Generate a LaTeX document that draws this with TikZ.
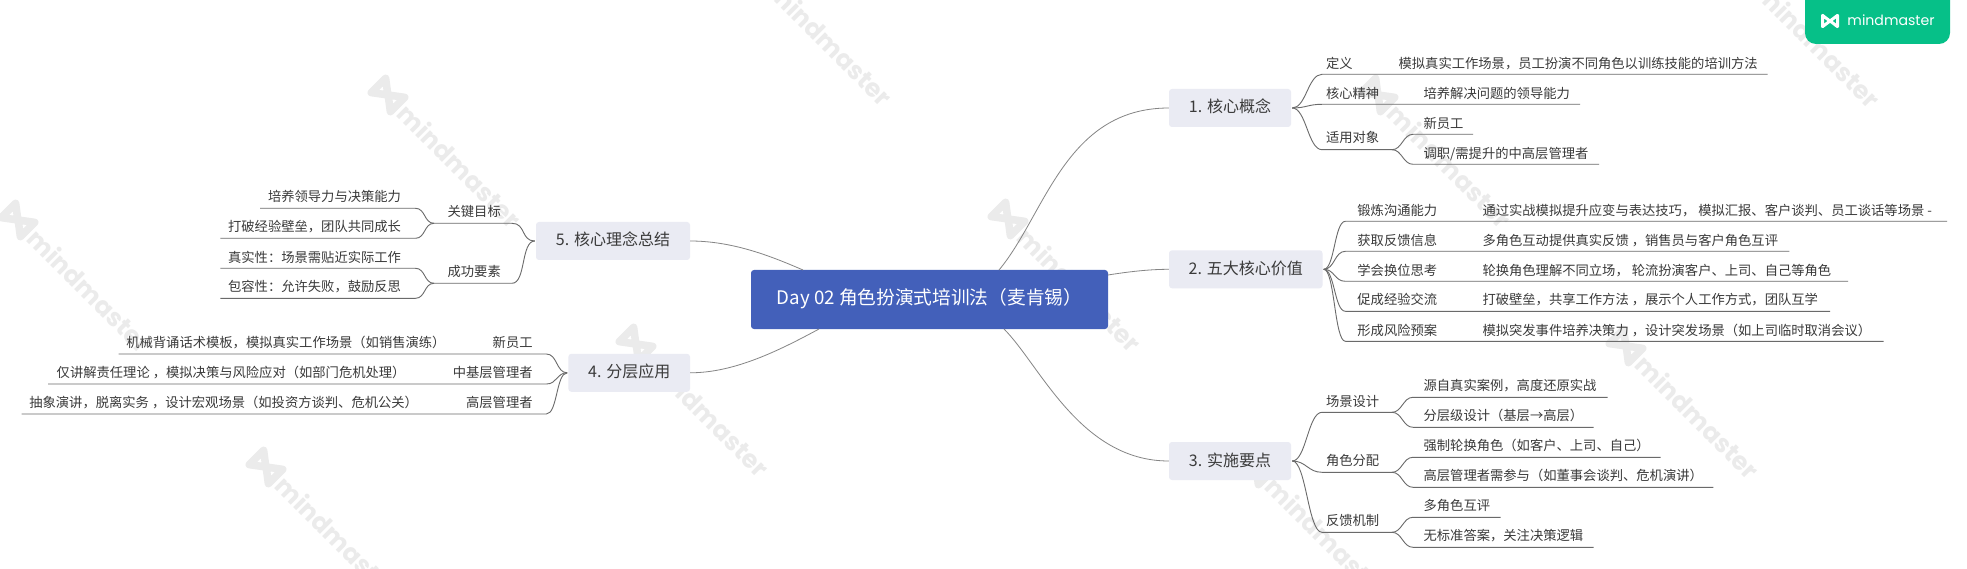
\documentclass[tikz,border=0pt]{standalone}
\usepackage{fontspec}
\setmainfont{Noto Sans CJK SC}
\newfontfamily\wmfont{Poppins}
\definecolor{inkc}{HTML}{3A3A3A}
\definecolor{twigc}{HTML}{6A6A6A}
\definecolor{branchc}{HTML}{858585}
\definecolor{rootc}{HTML}{4360BA}
\definecolor{subc}{HTML}{EAEBF3}
\definecolor{wmc}{HTML}{EBEBEB}
\definecolor{badgec}{HTML}{06C088}
\tikzset{
  lab/.style={inner sep=0pt,outer sep=0pt,text=inkc,text height=1.14em,text depth=0.12em,font=\fontsize{13.3}{16}\selectfont},
  lableft/.style={lab,anchor=west},
  labright/.style={lab,anchor=east},
  subnode/.style={fill=subc,rounded corners=3pt,inner sep=0pt,text=inkc,text height=1.12em,text depth=0.12em,font=\fontsize{16}{19}\selectfont,minimum height=38pt},
  rootnode/.style={fill=rootc,rounded corners=3pt,inner sep=0pt,text=white,text height=1.2em,text depth=0.12em,font=\fontsize{18.7}{22}\selectfont,minimum height=59pt,minimum width=357pt},
  twig/.style={draw=twigc,line width=0.9pt,line join=round},
  branch/.style={draw=branchc,line width=0.8pt},
  wmtext/.style={text=wmc,inner sep=0pt,rotate=-45,font=\fontsize{25}{30}\selectfont\wmfont\bfseries},
}
% parent, name, x start, x end, y, control length
\newcommand{\mmline}[6]{%
  \coordinate (#2s) at (#3,#5);
  \coordinate (#2e) at (#4,#5);
  \draw[twig] (#1) .. controls +(#6,0) and +({-1*(#6)},0) .. (#2s) -- (#2e);
}
% centre x, centre y, rotation, scale, line width, colour
\newcommand{\mmlogo}[6]{%
  \begin{scope}[shift={(#1,#2)},rotate=#3,scale=#4]
    \draw[#6,line width=#5,line join=round,line cap=round]
      (-1,-0.75) -- (-1,0.75) -- (1,-0.75) -- (1,0.75)
      (-1,-0.75) -- (-0.15,-0.1) (1,0.75) -- (0.15,0.1);
  \end{scope}
}
\begin{document}
\begin{tikzpicture}[x=1pt,y=-1pt]
\useasboundingbox (0,0) rectangle (1967,569);
\fill[white] (0,0) rectangle (1967,569);
% watermarks
\foreach \i/\sx/\sy in {1/370/76,2/1360/76,3/0/201,4/990/200,5/618/325,6/1608/327,7/248/448,8/1238/449,9/741/-46,10/1729/-44}{
  \mmlogo{\sx+18}{\sy+19}{-45}{13.5}{7.5pt}{wmc}
  \node[wmtext] (wm\i) at (\sx+90,\sy+90) {mindmaster};
}
% badge
\fill[badgec,rounded corners=11pt] (1805,-20) rectangle (1950,44);
\mmlogo{1830}{21}{0}{7.5}{3pt}{white}
\node[text=white,inner sep=0pt,font=\fontsize{14.1}{18}\selectfont\wmfont] (badge) at (1891,20.5) {mindmaster};
% main nodes
\node[rootnode] (root) at (929.5,299.5) {Day 02 角色扮演式培训法（麦肯锡）};
\node[subnode,minimum width=122pt] (n1) at (1230,108) {1. 核心概念};
\node[subnode,minimum width=153.5pt] (n2) at (1245.75,269.3) {2. 五大核心价值};
\node[subnode,minimum width=122pt] (n3) at (1230,461) {3. 实施要点};
\node[subnode,minimum width=121.6pt] (n4) at (629.2,372.8) {4. 分层应用};
\node[subnode,minimum width=154pt] (n5) at (613,241) {5. 核心理念总结};
% root connectors
\coordinate (r1) at (999,270);
\coordinate (r2) at (1108,275);
\coordinate (r3) at (1004,329);
\coordinate (r4) at (819,329);
\coordinate (r5) at (803,270);
\draw[branch] (r1) .. controls (1045,215) and (1065,108) .. (n1.west);
\draw[branch] (r2) .. controls (1130,271.5) and (1150,269.3) .. (n2.west);
\draw[branch] (r3) .. controls (1040,365) and (1080,461) .. (n3.west);
\draw[branch] (r4) .. controls (780,350) and (735,372.8) .. (n4.east);
\draw[branch] (r5) .. controls (775,258) and (735,241) .. (n5.east);
% forks
\coordinate (f1) at ([xshift=1pt]n1.east);
\coordinate (f2) at ([xshift=1pt]n2.east);
\coordinate (f3) at ([xshift=1pt]n3.east);
\coordinate (f4) at ([xshift=-1pt]n4.west);
\coordinate (f5) at ([xshift=-1pt]n5.west);
% 1
\mmline{f1}{a1}{1322}{1767.5}{74.3}{14}
\mmline{f1}{a2}{1322}{1580}{104.3}{14}
\mmline{f1}{a3}{1322}{1392}{149.7}{14}
\mmline{a3e}{a31}{1413}{1473}{134.3}{10}
\mmline{a3e}{a32}{1413}{1599}{164.3}{10}
\node[lableft] (ta1) at (1326,63) {定义};
\node[lableft] (la1) at (1398.6,63) {模拟真实工作场景，员工扮演不同角色以训练技能的培训方法};
\node[lableft] (ta2) at (1326,93.3) {核心精神};
\node[lableft] (la2) at (1423.6,93.3) {培养解决问题的领导能力};
\node[lableft] (ta3) at (1326,137) {适用对象};
\node[lableft] (la31) at (1423.6,123) {新员工};
\node[lableft] (la32) at (1423.6,153) {调职/需提升的中高层管理者};
% 2
\mmline{f2}{b1}{1345.4}{1947}{221.3}{11}
\mmline{f2}{b2}{1345.4}{1789.4}{251.3}{11}
\mmline{f2}{b3}{1345.4}{1848}{281.3}{11}
\mmline{f2}{b4}{1345.4}{1830}{311.3}{11}
\mmline{f2}{b5}{1345.4}{1883.7}{341.3}{11}
\node[lableft] (tb1) at (1357.4,210) {锻炼沟通能力};
\node[lableft] (lb1) at (1482.5,210) {通过实战模拟提升应变与表达技巧， 模拟汇报、客户谈判、员工谈话等场景 -};
\node[lableft] (tb2) at (1357.4,240) {获取反馈信息};
\node[lableft] (lb2) at (1482.5,240) {多角色互动提供真实反馈 ，销售员与客户角色互评};
\node[lableft] (tb3) at (1357.4,270) {学会换位思考};
\node[lableft] (lb3) at (1482.5,270) {轮换角色理解不同立场， 轮流扮演客户、上司、自己等角色};
\node[lableft] (tb4) at (1357.4,299.5) {促成经验交流};
\node[lableft] (lb4) at (1482.5,299.5) {打破壁垒，共享工作方法 ，展示个人工作方式，团队互学};
\node[lableft] (tb5) at (1357.4,330) {形成风险预案};
\node[lableft] (lb5) at (1482.5,330) {模拟突发事件培养决策力 ，设计突发场景（如上司临时取消会议）};
% 3
\mmline{f3}{c1}{1322}{1392}{412.3}{14}
\mmline{f3}{c2}{1322}{1392}{472.3}{14}
\mmline{f3}{c3}{1322}{1392}{532.3}{14}
\mmline{c1e}{c11}{1413}{1607.5}{397.3}{10}
\mmline{c1e}{c12}{1413}{1593.5}{427.3}{10}
\mmline{c2e}{c21}{1413}{1660.7}{457.3}{10}
\mmline{c2e}{c22}{1413}{1713.3}{487.3}{10}
\mmline{c3e}{c31}{1413}{1500.7}{517.3}{10}
\mmline{c3e}{c32}{1413}{1593.5}{547.3}{10}
\node[lableft] (tc1) at (1326,401.7) {场景设计};
\node[lableft] (lc11) at (1423.6,385.7) {源自真实案例，高度还原实战};
\node[lableft] (lc12) at (1423.6,415.7) {分层级设计（基层→高层）};
\node[lableft] (tc2) at (1326,460.7) {角色分配};
\node[lableft] (lc21) at (1423.6,445.7) {强制轮换角色（如客户、上司、自己）};
\node[lableft] (lc22) at (1423.6,475.7) {高层管理者需参与（如董事会谈判、危机演讲）};
\node[lableft] (tc3) at (1326,520.7) {反馈机制};
\node[lableft] (lc31) at (1423.6,505.7) {多角色互评};
\node[lableft] (lc32) at (1423.6,535.5) {无标准答案，关注决策逻辑};
% 5
\mmline{f5}{e1}{512}{434}{223.3}{-14}
\mmline{f5}{e2}{512}{434}{283.3}{-14}
\mmline{e1e}{e11}{415.5}{260}{208.3}{-10}
\mmline{e1e}{e12}{415.5}{220.4}{238.3}{-10}
\mmline{e2e}{e21}{415.5}{220.4}{268.3}{-10}
\mmline{e2e}{e22}{415.5}{220.4}{298.3}{-10}
\node[labright] (te1) at (500.8,211.7) {关键目标};
\node[labright] (le11) at (401,196.7) {培养领导力与决策能力};
\node[labright] (le12) at (401,226.7) {打破经验壁垒，团队共同成长};
\node[labright] (te2) at (500.8,271) {成功要素};
\node[labright] (le21) at (401,257.5) {真实性：场景需贴近实际工作};
\node[labright] (le22) at (401,286.7) {包容性：允许失败，鼓励反思};
% 4
\mmline{f4}{d1}{546.4}{118.5}{354}{-11}
\mmline{f4}{d2}{546.4}{48.2}{384}{-11}
\mmline{f4}{d3}{546.4}{21.6}{414}{-11}
\node[labright] (td1) at (532.6,342.3) {新员工};
\node[labright] (ld1) at (445.5,342.3) {机械背诵话术模板，模拟真实工作场景（如销售演练）};
\node[labright] (td2) at (532.6,372.3) {中基层管理者};
\node[labright] (ld2) at (405.5,372.3) {仅讲解责任理论 ，模拟决策与风险应对（如部门危机处理）};
\node[labright] (td3) at (532.6,402.3) {高层管理者};
\node[labright] (ld3) at (418,402.3) {抽象演讲，脱离实务 ，设计宏观场景（如投资方谈判、危机公关）};
\end{tikzpicture}
\end{document}
